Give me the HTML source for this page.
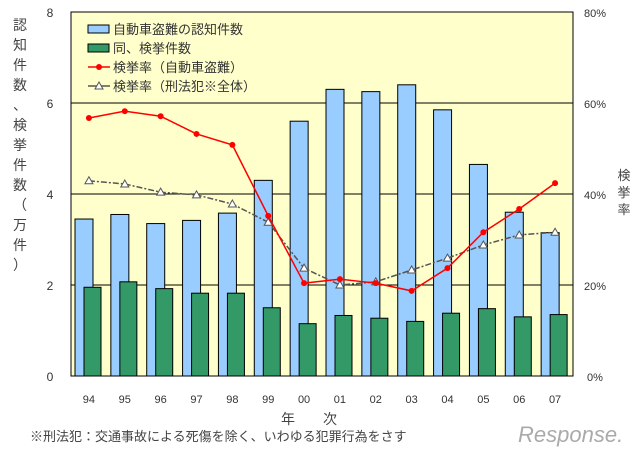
<!DOCTYPE html>
<html><head><meta charset="utf-8"><style>
body{margin:0;background:#fff;width:640px;height:454px;overflow:hidden}
svg text{font-family:"Liberation Sans","Noto Sans CJK JP",sans-serif}
</style></head><body>
<svg id="c" width="640" height="454"></svg>
<script>
const years=["94","95","96","97","98","99","00","01","02","03","04","05","06","07"];
const recognized=[3.45,3.55,3.35,3.42,3.58,4.3,5.6,6.3,6.25,6.4,5.85,4.65,3.6,3.15];
const cleared=[1.95,2.07,1.92,1.82,1.82,1.5,1.15,1.33,1.27,1.2,1.38,1.48,1.3,1.35];
const rateCar=[56.7,58.2,57.1,53.2,50.8,35.2,20.4,21.3,20.4,18.7,23.7,31.6,36.7,42.4];
const rateAll=[42.9,42.2,40.4,39.8,37.8,33.8,23.7,20,20.7,23.3,25.9,28.8,31,31.6];
const leftTicks=[0,2,4,6,8];
const rightTicks=["0%","20%","40%","60%","80%"];
const NS="http://www.w3.org/2000/svg",svg=document.getElementById('c');
const X0=71,X1=573,Y0=376,Y1=12,bw=(X1-X0)/years.length;
const yL=v=>Y0-(v/8)*(Y0-Y1), yR=v=>Y0-(v/80)*(Y0-Y1), xc=i=>X0+bw*(i+0.5);
function el(t,a,p){const e=document.createElementNS(NS,t);for(const k in a)e.setAttribute(k,a[k]);(p||svg).appendChild(e);return e;}
let r=el('rect',{x:X0,y:Y1,width:X1-X0,height:Y0-Y1,fill:'#ffffcc',stroke:'#000','stroke-width':1});

leftTicks.forEach((v,i)=>{
 const y=yL(v);
 if(v>0&&v<8){let g=el('line',{x1:X0,x2:X1,y1:y,y2:y,stroke:'#000','stroke-width':1});}
 let t=el('text',{x:50,y:y+5,'font-size':12,fill:'#333','text-anchor':'middle'});t.textContent=v;
 
 let t2=el('text',{x:595,y:y+5,'font-size':11,fill:'#333','text-anchor':'middle'});t2.textContent=rightTicks[i];
 
});
years.forEach((yr,i)=>{
 const x0=X0+bw*i;
 let b=el('rect',{x:x0+4,y:yL(recognized[i]),width:18,height:Y0-yL(recognized[i]),fill:'#99ccff',stroke:'#000','stroke-width':1});
 
 let g=el('rect',{x:x0+13,y:yL(cleared[i]),width:17,height:Y0-yL(cleared[i]),fill:'#339966',stroke:'#000','stroke-width':1});
 
 let t=el('text',{x:xc(i),y:403,'font-size':11,fill:'#333','text-anchor':'middle'});t.textContent=yr;
 
});
let pa=el('polyline',{points:rateAll.map((v,i)=>xc(i)+','+yR(v)).join(' '),fill:'none',stroke:'#555','stroke-width':1.5,'stroke-dasharray':'6,2,2,2'});

rateAll.forEach((v,i)=>{const x=xc(i),y=yR(v);let m=el('polygon',{points:`${x},${y-4} ${x-4},${y+3} ${x+4},${y+3}`,fill:'#fff',stroke:'#555'});});
let pc=el('polyline',{points:rateCar.map((v,i)=>xc(i)+','+yR(v)).join(' '),fill:'none',stroke:'#ff0000','stroke-width':1.5});

rateCar.forEach((v,i)=>{let m=el('circle',{cx:xc(i),cy:yR(v),r:3,fill:'#ff0000'});});
// legend
const lg=el('g',{});
const labs=["自動車盗難の認知件数","同、検挙件数","検挙率（自動車盗難）","検挙率（刑法犯※全体）"];
labs.forEach((s,i)=>{
 const y=29+i*19;
 if(i<2){el('rect',{x:88,y:y-4,width:21,height:8,fill:i?'#339966':'#99ccff',stroke:'#000'},lg);}
 else if(i==2){el('line',{x1:88,x2:110,y1:y,y2:y,stroke:'#f00','stroke-width':1.5},lg);el('circle',{cx:99,cy:y,r:3,fill:'#f00'},lg);}
 else{el('line',{x1:88,x2:110,y1:y,y2:y,stroke:'#555','stroke-width':1.5},lg);el('polygon',{points:`99,${y-4} 95,${y+3} 103,${y+3}`,fill:'#fff',stroke:'#555'},lg);}
 let t=el('text',{x:113,y:y+5,'font-size':13,fill:'#333'},lg);t.textContent=s;
});
// axis titles
const lt="認知件数、検挙件数（万件）";
[...lt].forEach((ch,i)=>{let t=el('text',{x:20,y:30+i*20,'font-size':14,fill:'#444','text-anchor':'middle'});t.textContent=ch;});
[..."検挙率"].forEach((ch,i)=>{let t=el('text',{x:624,y:180+i*17,'font-size':13,fill:'#444','text-anchor':'middle'});t.textContent=ch;});
let xt=el('text',{x:309,y:424,'font-size':14,fill:'#444','text-anchor':'middle'});xt.textContent="年　　次";
let fn=el('text',{x:30,y:441,'font-size':13,fill:'#444'});fn.textContent="※刑法犯：交通事故による死傷を除く、いわゆる犯罪行為をさす";
let wm=el('text',{x:518,y:442,'font-size':22,fill:'#aaa','font-style':'italic'});wm.textContent="Response.";
</script>
</body></html>
